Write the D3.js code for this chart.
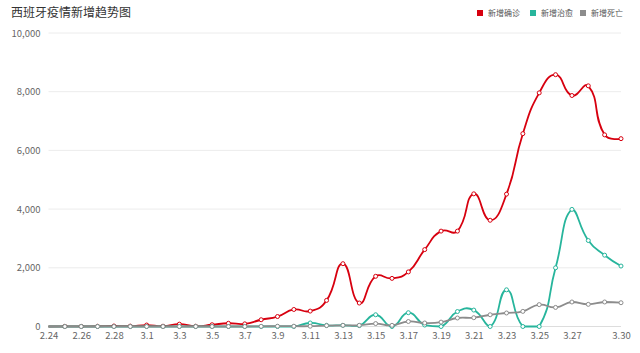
<!DOCTYPE html>
<html>
<head>
<meta charset="utf-8">
<script src="https://cdn.jsdelivr.net/npm/d3@7"></script>
<style>
  body { margin: 0; background: #fff; }
  #chart { width: 640px; height: 353px; }
  text { font-family: "Noto Sans CJK SC", "Noto Sans", sans-serif; }
</style>
</head>
<body>
<div id="chart"></div>
<script>
// dates on the x axis
const dates = ["2.24","2.25","2.26","2.27","2.28","2.29",
    "3.1","3.2","3.3","3.4","3.5","3.6","3.7","3.8","3.9","3.10",
    "3.11","3.12","3.13","3.14","3.15","3.16","3.17","3.18","3.19","3.20",
    "3.21","3.22","3.23","3.24","3.25","3.26","3.27","3.28","3.29","3.30"];

// 新增确诊
const confirmed = [0, 6, 4, 8, 17, 13,
    50, 10, 80, 10, 60, 110, 90, 230, 340, 580,
    525, 890, 2140, 800, 1710, 1640, 1860, 2620, 3250, 3250,
    4520, 3620, 4510, 6570, 7960, 8580, 7870, 8200, 6530, 6400];

// 新增治愈
const recovered = [0, 0, 0, 0, 0, 0,
    0, 0, 0, 0, 0, 0, 0, 0, 0, 0,
    120, 40, 40, 30, 400, 0, 470, 50, 0, 510,
    560, 0, 1250, 0, 0, 2000, 3990, 2930, 2430, 2060];

// 新增死亡
const deaths = [0, 0, 0, 0, 0, 0,
    0, 0, 0, 0, 0, 0, 0, 5, 10, 10,
    10, 30, 40, 40, 100, 40, 170, 120, 150, 290,
    300, 400, 460, 515, 745, 650, 835, 755, 835, 810];

const yTicks = [0, 2000, 4000, 6000, 8000, 10000];
const xLabels = ["2.24","2.26","2.28","3.1","3.3","3.5","3.7","3.9","3.11","3.13",
    "3.15","3.17","3.19","3.21","3.23","3.25","3.27","3.30"];

const seriesNames = ["新增确诊", "新增治愈", "新增死亡"];
const colors = ["#d7000f", "#27b59c", "#8c8c8c"];

// echarts style smoothing (smooth = 0.5, control points kept inside data box)
class SmoothCurve {
    constructor(context, smooth) { this._context = context; this._smooth = smooth; }
    areaStart() {}
    areaEnd() {}
    lineStart() { this._pts = []; }
    point(x, y) { this._pts.push([+x, +y]); }
    lineEnd() {
        let pts = this._pts, ctx = this._context, s = this._smooth;
        if (!pts.length) return;
        let minX = d3.min(pts, d => d[0]), maxX = d3.max(pts, d => d[0]);
        let minY = d3.min(pts, d => d[1]), maxY = d3.max(pts, d => d[1]);
        const clamp = p => [Math.max(minX, Math.min(maxX, p[0])), Math.max(minY, Math.min(maxY, p[1]))];
        ctx.moveTo(pts[0][0], pts[0][1]);
        let cp0 = pts[0].slice();
        for (let i = 1; i < pts.length; i++) {
            let p = pts[i], prev = pts[i - 1], next = pts[i + 1];
            let ncp, after;
            if (!next) {
                ncp = p.slice();
                after = p.slice();
            } else {
                let vx = next[0] - prev[0], vy = next[1] - prev[1];
                let d0 = Math.hypot(p[0] - prev[0], p[1] - prev[1]);
                let d1 = Math.hypot(next[0] - p[0], next[1] - p[1]);
                let ratio = d1 / (d0 + d1);
                ncp = clamp([p[0] - vx * s * (1 - ratio), p[1] - vy * s * (1 - ratio)]);
                after = clamp([p[0] + vx * s * ratio, p[1] + vy * s * ratio]);
            }
            ctx.bezierCurveTo(cp0[0], cp0[1], ncp[0], ncp[1], p[0], p[1]);
            cp0 = after;
        }
    }
}
const curveSmooth = context => new SmoothCurve(context, 0.5);

const width = 640, height = 353;
const margin = {top: 33, right: 19, bottom: 26.5, left: 48.5};

const svg = d3.select("#chart").append("svg")
    .attr("width", width)
    .attr("height", height);

// title
svg.append("text")
    .attr("x", 11)
    .attr("y", 17)
    .attr("font-size", 12)
    .attr("fill", "#333")
    .text("西班牙疫情新增趋势图");

const x = d3.scalePoint()
    .domain(dates)
    .range([margin.left, width - margin.right]);

const y = d3.scaleLinear()
    .domain([0, 10000])
    .range([height - margin.bottom, margin.top]);

// grid lines
svg.append("g")
    .selectAll("line")
    .data(yTicks)
    .enter().append("line")
    .attr("x1", margin.left)
    .attr("x2", width - margin.right)
    .attr("y1", d => y(d))
    .attr("y2", d => y(d))
    .attr("stroke", d => d === 0 ? "#ddd" : "#ececec")
    .attr("stroke-width", 1);

// y axis labels
const yAxis = d3.axisLeft(y)
    .tickValues(yTicks)
    .tickSize(0)
    .tickPadding(8)
    .tickFormat(d3.format(","));

svg.append("g")
    .attr("class", "y-axis")
    .attr("transform", `translate(${margin.left}, 0)`)
    .call(yAxis)
    .call(g => g.select(".domain").remove())
    .selectAll("text")
    .attr("font-size", 9.5)
    .attr("fill", "#666");

// x axis labels
const xAxis = d3.axisBottom(x)
    .tickValues(xLabels)
    .tickSize(0)
    .tickPadding(6);

svg.append("g")
    .attr("class", "x-axis")
    .attr("transform", `translate(0, ${height - margin.bottom})`)
    .call(xAxis)
    .call(g => g.select(".domain").remove())
    .selectAll("text")
    .attr("font-size", 9.5)
    .attr("fill", "#666");

const allSeries = [confirmed, recovered, deaths];

const line = d3.line()
    .x((d, i) => x(dates[i]))
    .y(d => y(d))
    .curve(curveSmooth);

allSeries.forEach((values, k) => {
    svg.append("path")
        .datum(values)
        .attr("fill", "none")
        .attr("stroke", colors[k])
        .attr("stroke-width", 1.8)
        .attr("d", line);
});

allSeries.forEach((values, k) => {
    // first symbol is not drawn in the original
    svg.append("g")
        .selectAll("circle")
        .data(values.map((v, i) => ({v, i})).filter(d => d.i > 0))
        .enter().append("circle")
        .attr("cx", d => x(dates[d.i]))
        .attr("cy", d => y(d.v))
        .attr("r", 2)
        .attr("fill", "#fff")
        .attr("stroke", colors[k])
        .attr("stroke-width", 1);
});

// legend
const legendX = [477, 530, 580];
const legend = svg.append("g").attr("class", "legend");
seriesNames.forEach((name, k) => {
    legend.append("rect")
        .attr("x", legendX[k])
        .attr("y", 10)
        .attr("width", 6)
        .attr("height", 6)
        .attr("fill", colors[k]);
    legend.append("text")
        .attr("x", legendX[k] + 11)
        .attr("y", 16)
        .attr("font-size", 8)
        .attr("fill", "#555")
        .text(name);
});
</script>
</body>
</html>
